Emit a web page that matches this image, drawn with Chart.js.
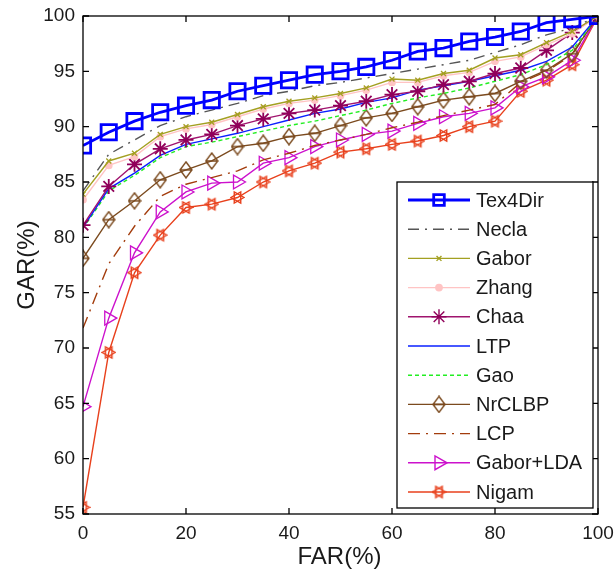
<!DOCTYPE html>
<html>
<head>
<meta charset="utf-8">
<script src="https://cdn.jsdelivr.net/npm/chart.js@4.4.1/dist/chart.umd.min.js"></script>
<style>
    html, body { margin: 0; padding: 0; background: #fff; }
    #wrap { width: 614px; height: 576px; }
</style>
</head>
<body>
<div id="wrap"><canvas id="rocChart" width="614" height="576"></canvas></div>
<script>
// ROC curves, GAR vs FAR
const far = [0, 5, 10, 15, 20, 25, 30, 35, 40, 45, 50, 55, 60, 65, 70, 75, 80, 85, 90, 95, 100];

const tex4dir  = [88.3, 89.5, 90.5, 91.3, 91.9, 92.4, 93.2, 93.7, 94.2, 94.7, 95.0, 95.4, 96.0, 96.8, 97.1, 97.7, 98.1, 98.6, 99.4, 99.7, 100];
const necla    = [84.2, 87.5, 88.8, 90.1, 90.9, 91.5, 92.1, 92.8, 93.2, 93.7, 94.0, 94.4, 94.8, 95.2, 95.6, 96.0, 96.7, 97.4, 98.3, 98.9, 100];
const gabor    = [83.9, 86.9, 87.6, 89.3, 90.0, 90.4, 91.1, 91.8, 92.3, 92.6, 93.0, 93.5, 94.3, 94.2, 94.8, 95.1, 96.2, 96.5, 97.6, 98.6, 100];
const zhang    = [83.4, 86.5, 87.3, 89.1, 89.8, 90.2, 90.9, 91.6, 92.1, 92.4, 92.8, 93.3, 94.0, 94.0, 94.6, 94.9, 95.9, 96.3, 97.4, 98.4, 100];
const chaa     = [81.1, 84.6, 86.6, 88.0, 88.8, 89.3, 90.1, 90.7, 91.2, 91.5, 91.9, 92.3, 92.9, 93.2, 93.8, 94.1, 94.8, 95.3, 96.9, 98.5, 100];
const ltp      = [80.9, 84.4, 85.8, 87.4, 88.4, 88.9, 89.4, 90.0, 90.6, 91.2, 91.6, 92.2, 92.6, 93.3, 93.7, 94.1, 94.6, 95.1, 95.9, 97.2, 100];
const gao      = [80.8, 84.2, 85.6, 87.2, 88.2, 88.6, 89.1, 89.6, 90.1, 90.5, 91.0, 91.5, 92.1, 92.6, 93.0, 93.5, 94.1, 94.7, 95.6, 96.9, 100];
const nrclbp   = [78.1, 81.6, 83.3, 85.2, 86.1, 86.9, 88.2, 88.5, 89.1, 89.4, 90.1, 90.8, 91.2, 91.8, 92.4, 92.7, 93.0, 94.1, 95.1, 96.6, 100];
const lcp      = [71.8, 77.6, 81.0, 83.7, 84.8, 85.4, 86.0, 87.0, 87.6, 88.3, 88.8, 89.3, 89.9, 90.4, 91.0, 91.5, 92.0, 94.0, 95.0, 96.5, 100];
const gaborLda = [64.7, 72.7, 78.6, 82.3, 84.1, 84.9, 85.0, 86.7, 87.2, 88.2, 88.8, 89.3, 89.6, 90.3, 90.9, 91.2, 91.7, 93.6, 94.5, 96.0, 100];
const nigam    = [55.6, 69.6, 76.8, 80.2, 82.7, 83.0, 83.6, 85.0, 86.0, 86.7, 87.7, 88.0, 88.4, 88.7, 89.2, 90.0, 90.5, 93.2, 94.2, 95.6, 100];

const xTicks = [0, 20, 40, 60, 80, 100];
const yTicks = [55, 60, 65, 70, 75, 80, 85, 90, 95, 100];
const xTitle = 'FAR(%)';
const yTitle = 'GAR(%)';

const FONT = "'Liberation Sans', Arial, sans-serif";

// custom marker images
function makeMarker(w, h, draw) {
    const c = document.createElement('canvas');
    c.width = w;
    c.height = h;
    draw(c.getContext('2d'), w, h);
    return c;
}

const diamondMarker = makeMarker(14, 18, (ctx, w, h) => {
    ctx.strokeStyle = '#7b4a1e';
    ctx.lineWidth = 1.4;
    ctx.beginPath();
    ctx.moveTo(w / 2, 1);
    ctx.lineTo(w - 1, h / 2);
    ctx.lineTo(w / 2, h - 1);
    ctx.lineTo(1, h / 2);
    ctx.closePath();
    ctx.moveTo(1, h / 2);
    ctx.lineTo(w - 1, h / 2);
    ctx.stroke();
});

const hexagramMarker = makeMarker(15, 15, (ctx, w, h) => {
    ctx.strokeStyle = '#e8401c';
    ctx.lineWidth = 1.4;
    const cx = w / 2, cy = h / 2, r = 6.5;
    for (let k = 0; k < 2; k++) {
        ctx.beginPath();
        for (let i = 0; i < 3; i++) {
            const a = k * Math.PI / 3 + i * 2 * Math.PI / 3;
            const px = cx + r * Math.cos(a), py = cy + r * Math.sin(a);
            if (i === 0) ctx.moveTo(px, py); else ctx.lineTo(px, py);
        }
        ctx.closePath();
        ctx.stroke();
    }
});

function series(label, values, style) {
    return Object.assign({
        label: label,
        data: values.map((v, i) => ({ x: far[i], y: v })),
        borderWidth: 1.4,
        pointRadius: 0,
        pointBackgroundColor: 'rgba(0,0,0,0)',
        pointBorderWidth: 1.3,
        tension: 0,
        fill: false
    }, style);
}

const datasets = [
    series('Tex4Dir', tex4dir, { borderColor: '#0000ff', borderWidth: 2.8, pointStyle: 'rect', pointRadius: 10.8, pointBorderColor: '#0000ff', pointBorderWidth: 2.8 }),
    series('Necla', necla, { borderColor: '#555555', borderDash: [11, 6, 2, 6] }),
    series('Gabor', gabor, { borderColor: '#a3a021', pointStyle: 'crossRot', pointRadius: 3.5, pointBorderColor: '#a3a021' }),
    series('Zhang', zhang, { borderColor: '#ffc4c4', pointStyle: 'circle', pointRadius: 3.2, pointBorderColor: '#ffc4c4', pointBackgroundColor: '#ffc4c4' }),
    series('Chaa', chaa, { borderColor: '#a0146e', pointStyle: 'star', pointRadius: 7.5, pointBorderColor: '#90005a', pointBorderWidth: 1.8 }),
    series('LTP', ltp, { borderColor: '#0a20ff' }),
    series('Gao', gao, { borderColor: '#22ee22', borderDash: [4, 3] }),
    series('NrCLBP', nrclbp, { borderColor: '#7b4a1e', pointStyle: diamondMarker, pointRadius: 8 }),
    series('LCP', lcp, { borderColor: '#a33c0c', borderDash: [12, 6, 2, 6] }),
    series('Gabor+LDA', gaborLda, { borderColor: '#cc11cc', pointStyle: 'triangle', pointRotation: 90, pointRadius: 8, pointBorderColor: '#cc11cc' }),
    series('Nigam', nigam, { borderColor: '#e8401c', pointStyle: hexagramMarker, pointRadius: 7 })
];

// draws inward ticks, the axes box, axis titles and the legend
const matlabFrame = {
    id: 'matlabFrame',
    afterDraw(chart) {
        const ctx = chart.ctx;
        const a = chart.chartArea;
        const xs = chart.scales.x, ys = chart.scales.y;
        ctx.save();
        ctx.strokeStyle = '#000';
        ctx.lineWidth = 1.3;
        ctx.strokeRect(a.left, a.top, a.right - a.left, a.bottom - a.top);
        ctx.beginPath();
        xTicks.forEach(t => {
            const px = xs.getPixelForValue(t);
            ctx.moveTo(px, a.bottom); ctx.lineTo(px, a.bottom - 6);
            ctx.moveTo(px, a.top); ctx.lineTo(px, a.top + 6);
        });
        yTicks.forEach(t => {
            const py = ys.getPixelForValue(t);
            ctx.moveTo(a.left, py); ctx.lineTo(a.left + 6, py);
            ctx.moveTo(a.right, py); ctx.lineTo(a.right - 6, py);
        });
        ctx.stroke();

        // axis titles
        ctx.fillStyle = '#1a1a1a';
        ctx.font = '24px ' + FONT;
        ctx.textAlign = 'center';
        ctx.textBaseline = 'middle';
        ctx.fillText(xTitle, (a.left + a.right) / 2 - 1, 557);
        ctx.translate(27, (a.top + a.bottom) / 2);
        ctx.rotate(-Math.PI / 2);
        ctx.fillText(yTitle, 0, 0);
        ctx.restore();

        // legend box
        const box = { left: 397, top: 182, right: 593, bottom: 508 };
        ctx.save();
        ctx.fillStyle = '#fff';
        ctx.fillRect(box.left, box.top, box.right - box.left, box.bottom - box.top);
        ctx.strokeStyle = '#000';
        ctx.lineWidth = 1.3;
        ctx.strokeRect(box.left, box.top, box.right - box.left, box.bottom - box.top);
        const rowH = 29.2;
        chart.data.datasets.forEach((ds, i) => {
            const y = 200 + i * rowH;
            ctx.save();
            ctx.strokeStyle = ds.borderColor;
            ctx.lineWidth = ds.borderWidth;
            ctx.setLineDash(ds.borderDash || []);
            ctx.beginPath();
            ctx.moveTo(408, y);
            ctx.lineTo(470, y);
            ctx.stroke();
            ctx.setLineDash([]);
            if (ds.pointRadius > 0) {
                ctx.strokeStyle = ds.pointBorderColor || ds.borderColor;
                ctx.fillStyle = ds.pointBackgroundColor;
                Chart.helpers.drawPoint(ctx, {
                    pointStyle: ds.pointStyle,
                    rotation: ds.pointRotation || 0,
                    radius: ds.pointStyle === 'rect' ? 7.5 : ds.pointRadius,
                    borderWidth: ds.pointBorderWidth
                }, 439, y);
            }
            ctx.restore();
            ctx.fillStyle = '#1a1a1a';
            ctx.font = '20px ' + FONT;
            ctx.textAlign = 'left';
            ctx.textBaseline = 'middle';
            ctx.fillText(ds.label, 476, y + 1);
        });
        ctx.restore();
    }
};

new Chart(document.getElementById('rocChart'), {
    type: 'line',
    data: { datasets: datasets },
    options: {
        responsive: false,
        animation: false,
        devicePixelRatio: 1,
        layout: { padding: { left: 0, top: 16, right: 16, bottom: 0 } },
        plugins: {
            legend: { display: false },
            tooltip: { enabled: false }
        },
        scales: {
            x: {
                type: 'linear',
                min: 0,
                max: 100,
                afterBuildTicks: scale => { scale.ticks = xTicks.map(v => ({ value: v })); },
                afterFit: scale => { scale.height = 62; },
                grid: { display: false },
                border: { display: false },
                ticks: { color: '#1a1a1a', padding: 0, maxRotation: 0, font: { family: FONT, size: 19 } }
            },
            y: {
                type: 'linear',
                min: 55,
                max: 100,
                afterBuildTicks: scale => { scale.ticks = yTicks.map(v => ({ value: v })); },
                afterFit: scale => { scale.width = 83; },
                grid: { display: false },
                border: { display: false },
                ticks: { color: '#1a1a1a', padding: 0, font: { family: FONT, size: 19 } }
            }
        }
    },
    plugins: [matlabFrame]
});
</script>
</body>
</html>
